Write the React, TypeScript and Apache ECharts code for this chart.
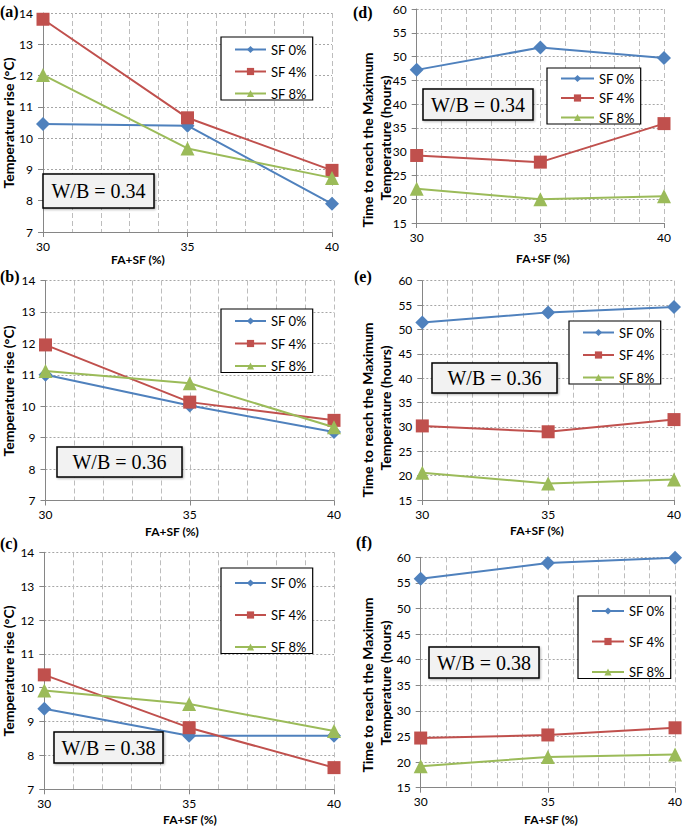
import React, { useEffect, useRef } from "react";
import * as echarts from "echarts";

const xValues = [30, 35, 40];
const seriesNames = ["SF 0%", "SF 4%", "SF 8%"];

// Temperature rise (°C)
const tempA_SF0 = [10.45, 10.4, 7.9];
const tempA_SF4 = [13.8, 10.65, 8.97];
const tempA_SF8 = [12.02, 9.67, 8.73];

const tempB_SF0 = [11.0, 10.02, 9.18];
const tempB_SF4 = [11.95, 10.13, 9.55];
const tempB_SF8 = [11.12, 10.73, 9.33];

const tempC_SF0 = [9.38, 8.58, 8.58];
const tempC_SF4 = [10.38, 8.82, 7.64];
const tempC_SF8 = [9.92, 9.52, 8.72];

// Time to reach max temperature (hours)
const timeD_SF0 = [47.2, 51.9, 49.7];
const timeD_SF4 = [29.2, 27.8, 35.9];
const timeD_SF8 = [22.2, 20.0, 20.6];

const timeE_SF0 = [51.4, 53.5, 54.6];
const timeE_SF4 = [30.2, 29.0, 31.5];
const timeE_SF8 = [20.6, 18.4, 19.2];

const timeF_SF0 = [55.8, 58.9, 59.9];
const timeF_SF4 = [24.7, 25.3, 26.7];
const timeF_SF8 = [19.2, 21.0, 21.5];

const panelLabels = ["(a)", "(b)", "(c)", "(d)", "(e)", "(f)"];
const wbLabels = ["W/B = 0.34", "W/B = 0.36", "W/B = 0.38", "W/B = 0.34", "W/B = 0.36", "W/B = 0.38"];
const xTitle = "FA+SF (%)";
const yTitleTemp = "Temperature rise (°C)";
const yTitleTime1 = "Time to reach the Maximum";
const yTitleTime2 = "Temperature (hours)";

const COLORS = ["#4F81BD", "#C0504D", "#9BBB59"];
const SYMBOLS = ["diamond", "rect", "triangle"];
const SYMBOL_SIZES = [14, 13, 14];

const panelData = [
  [tempA_SF0, tempA_SF4, tempA_SF8],
  [tempB_SF0, tempB_SF4, tempB_SF8],
  [tempC_SF0, tempC_SF4, tempC_SF8],
  [timeD_SF0, timeD_SF4, timeD_SF8],
  [timeE_SF0, timeE_SF4, timeE_SF8],
  [timeF_SF0, timeF_SF4, timeF_SF8],
];

// layout (pixels)
const grids = [
  { left: 43, top: 13, width: 289, height: 219 },
  { left: 45.5, top: 280.5, width: 288.5, height: 220 },
  { left: 44.3, top: 552.3, width: 289.7, height: 237 },
  { left: 416.7, top: 9, width: 247.3, height: 214 },
  { left: 422.3, top: 280.7, width: 251.7, height: 219.3 },
  { left: 420.7, top: 557.3, width: 257.6, height: 230.4 },
];
const legends = [
  { left: 221, top: 37, w: 92, h: 69, gap: 22, lineW: 31 },
  { left: 221, top: 309, w: 91, h: 69, gap: 22.5, lineW: 31 },
  { left: 221, top: 568, w: 101, h: 94, gap: 32, lineW: 31 },
  { left: 547, top: 68, w: 93, h: 60, gap: 19.5, lineW: 33 },
  { left: 569, top: 321, w: 104, h: 68, gap: 22.5, lineW: 31 },
  { left: 578, top: 596, w: 94, h: 91, gap: 30.5, lineW: 32 },
];
const wbBoxes = [
  { x: 43, y: 174, w: 111, h: 34 },
  { x: 57, y: 447, w: 125, h: 30 },
  { x: 54, y: 732, w: 109, h: 31 },
  { x: 423, y: 89, w: 110, h: 31 },
  { x: 432, y: 363, w: 125, h: 30 },
  { x: 429, y: 647, w: 110, h: 31 },
];
const panelLabelPos = [
  { x: 0, y: 11 },
  { x: 0, y: 276 },
  { x: 0, y: 543 },
  { x: 353, y: 12 },
  { x: 354, y: 276 },
  { x: 356, y: 542 },
];
const xTitlePos = [
  { x: 138, y: 259 },
  { x: 172, y: 531 },
  { x: 190, y: 819 },
  { x: 543, y: 258 },
  { x: 537, y: 530 },
  { x: 551, y: 819 },
];
const yTitleCenters = [123, 391, 671, 140, 410, 685];

const FONT = "Lato, 'Open Sans', sans-serif";
const SERIF = "'Liberation Serif', 'DejaVu Serif', serif";

export default function App() {
  const ref = useRef<HTMLDivElement>(null);

  useEffect(() => {
    if (!ref.current) return;
    const chart = echarts.init(ref.current, null, { renderer: "svg" });

    const gridOpts = grids.map((g) => ({ ...g, containLabel: false }));

    const xAxes = grids.map((_, i) => ({
      type: "value",
      gridIndex: i,
      min: 30,
      max: 40,
      interval: 5,
      axisLine: { show: true, lineStyle: { color: "#868686", width: 1 } },
      axisTick: { show: true, length: 5, lineStyle: { color: "#868686" } },
      axisLabel: { color: "#000", fontFamily: FONT, fontSize: 12, margin: 8, lineHeight: 12 },
      splitLine: { show: true, lineStyle: { color: "#BDBDBD", type: [5, 3], width: 1 } },
      minorTick: { show: false, splitNumber: 5 },
      minorSplitLine: { show: true, lineStyle: { color: "#BDBDBD", type: [5, 3], width: 1 } },
    }));

    const yAxes = grids.map((_, i) => {
      const isTemp = i < 3;
      return {
        type: "value",
        gridIndex: i,
        min: isTemp ? 7 : 15,
        max: isTemp ? 14 : 60,
        interval: isTemp ? 1 : 5,
        axisLine: { show: true, lineStyle: { color: "#868686", width: 1 } },
        axisTick: { show: true, length: 5, lineStyle: { color: "#868686" } },
        axisLabel: { color: "#000", fontFamily: FONT, fontSize: 12, margin: 10 },
        splitLine: { show: true, lineStyle: { color: "#A6A6A6", type: [2, 2], width: 1 } },
      };
    });

    const series: any[] = [];
    panelData.forEach((panel, p) => {
      panel.forEach((vals, s) => {
        series.push({
          type: "line",
          name: seriesNames[s],
          xAxisIndex: p,
          yAxisIndex: p,
          data: xValues.map((x, k) => [x, vals[k]]),
          symbol: SYMBOLS[s],
          symbolSize: SYMBOL_SIZES[s],
          clip: false,
          lineStyle: { color: COLORS[s], width: 2 },
          itemStyle: { color: COLORS[s] },
          z: 3 + s,
        });
      });
    });

    const legendOpts = legends.map((l) => ({
      orient: "vertical",
      left: l.left,
      top: l.top,
      width: l.w,
      height: l.h,
      padding: [Math.max(2, (l.h - 2 * l.gap - 13) / 2), 6, 0, 13],
      itemGap: l.gap - 13,
      itemWidth: l.lineW,
      itemHeight: 9,
      borderColor: "#000",
      borderWidth: 1.2,
      backgroundColor: "#fff",
      selectedMode: false,
      textStyle: { fontFamily: FONT, fontSize: 13, color: "#000", lineHeight: 13 },
      data: seriesNames,
    }));

    const graphics: any[] = [];
    // W/B boxes
    wbBoxes.forEach((b, i) => {
      graphics.push({
        type: "rect",
        shape: { x: b.x, y: b.y, width: b.w, height: b.h },
        style: {
          fill: "#F2F2F2",
          stroke: "#000",
          lineWidth: 1.5,
          shadowBlur: 2,
          shadowOffsetX: 1,
          shadowOffsetY: 1,
          shadowColor: "rgba(0,0,0,0.3)",
        },
        z: 20,
      });
      graphics.push({
        type: "text",
        x: b.x + b.w / 2,
        y: b.y + b.h / 2,
        style: {
          text: wbLabels[i],
          fontFamily: SERIF,
          fontSize: 20,
          fill: "#000",
          align: "center",
          verticalAlign: "middle",
        },
        z: 21,
      });
    });
    // panel labels
    panelLabels.forEach((t, i) => {
      graphics.push({
        type: "text",
        x: panelLabelPos[i].x,
        y: panelLabelPos[i].y,
        style: {
          text: t,
          fontFamily: SERIF,
          fontWeight: "bold",
          fontSize: 16,
          fill: "#000",
          align: "left",
          verticalAlign: "middle",
        },
        z: 22,
      });
    });
    // x titles
    xTitlePos.forEach((p) => {
      graphics.push({
        type: "text",
        x: p.x,
        y: p.y,
        style: {
          text: xTitle,
          fontFamily: FONT,
          fontWeight: "bold",
          fontSize: 12,
          lineHeight: 12,
          fill: "#000",
          align: "center",
          verticalAlign: "middle",
        },
      });
    });
    // y titles
    yTitleCenters.forEach((cy, i) => {
      if (i < 3) {
        graphics.push({
          type: "text",
          x: 8,
          y: cy,
          rotation: Math.PI / 2,
          style: {
            text: yTitleTemp,
            fontFamily: FONT,
            fontWeight: "bold",
            fontSize: 14,
            fill: "#000",
            align: "center",
            verticalAlign: "middle",
          },
        });
      } else {
        graphics.push({
          type: "text",
          x: 367,
          y: cy,
          rotation: Math.PI / 2,
          style: {
            text: yTitleTime1,
            fontFamily: FONT,
            fontWeight: "bold",
            fontSize: 14,
            lineHeight: 14,
            fill: "#000",
            align: "center",
            verticalAlign: "middle",
          },
        });
        graphics.push({
          type: "text",
          x: 385,
          y: cy - 2,
          rotation: Math.PI / 2,
          style: {
            text: yTitleTime2,
            fontFamily: FONT,
            fontWeight: "bold",
            fontSize: 14,
            lineHeight: 14,
            fill: "#000",
            align: "center",
            verticalAlign: "middle",
          },
        });
      }
    });

    chart.setOption({
      animation: false,
      backgroundColor: "#fff",
      grid: gridOpts,
      xAxis: xAxes,
      yAxis: yAxes,
      legend: legendOpts,
      series,
      graphic: { elements: graphics },
    });

    return () => chart.dispose();
  }, []);

  return (
    <div
      ref={ref}
      style={{ position: "absolute", left: 0, top: 0, width: 685, height: 826 }}
    />
  );
}
